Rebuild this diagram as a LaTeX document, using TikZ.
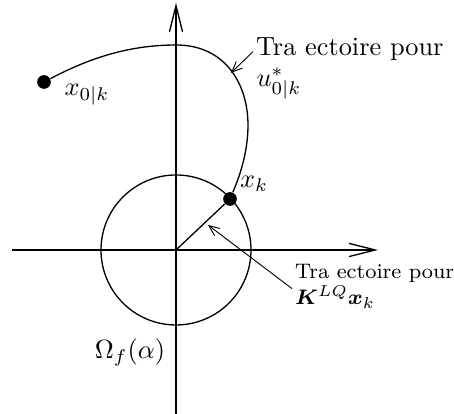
\documentclass[tikz,border=0pt]{standalone}
\usepackage{amsmath}
\usetikzlibrary{arrows.meta}
\tikzset{
  axis/.style={line width=0.5pt,-{Straight Barb[length=10pt,width=5pt]}},
  traj/.style={line width=0.5pt},
  pointer/.style={line width=0.35pt,-{Straight Barb[length=4pt,width=3.4pt]}},
  dot/.style={circle,fill=black,inner sep=0pt,minimum size=5.2pt},
  lbl/.style={inner sep=1pt}
}

\begin{document}
\begin{tikzpicture}[x=0.38pt,y=0.38pt]
    \useasboundingbox (-176,-164) rectangle (278,250);
    \coordinate (O) at (0,0);
    % axes
    \draw[axis] (-164,0) -- (202,0);
    \draw[axis] (0,-164) -- (0,247);
    % terminal set
    \draw[traj] (O) circle (75);
    \node[lbl] (omega) at (-46,-102) {$\Omega_f(\alpha)$};
    % states
    \node[dot] (x0) at (-132,168) {};
    \node[dot] (xk) at (54,51) {};
    \node[lbl] (x0lab) at (-89,155) {$x_{0|k}$};
    \node[lbl] (xklab) at (78,66) {$x_k$};
    % trajectories
    \draw[traj] (x0) .. controls (-90,190) and (-50,205) .. (0,205)
                     .. controls (50,205) and (72,165) .. (72,125)
                     .. controls (72,95) and (62,70) .. (xk);
    \draw[traj] (O) -- (xk);
    \coordinate (ontraj) at (55,177);
    \coordinate (onray) at (32,25);
    % labels
    \node[lbl,anchor=west] (lab1) at (77,201) {Tra\ ectoire pour};
    \node[inner sep=0pt,anchor=west] (lab1u) at (80,166) {$u^*_{0|k}$};
    \node[lbl,anchor=west,align=left,font=\fontsize{8}{10}\selectfont] (lab2) at (116,-36) {Tra\ ectoire pour\\$\boldsymbol{K}^{LQ}\boldsymbol{x}_k$};
    \draw[pointer] ([yshift=-1pt]lab1.west) -- (ontraj);
    \draw[pointer] ([yshift=-1pt]lab2.west) -- (onray);
\end{tikzpicture}
\end{document}
